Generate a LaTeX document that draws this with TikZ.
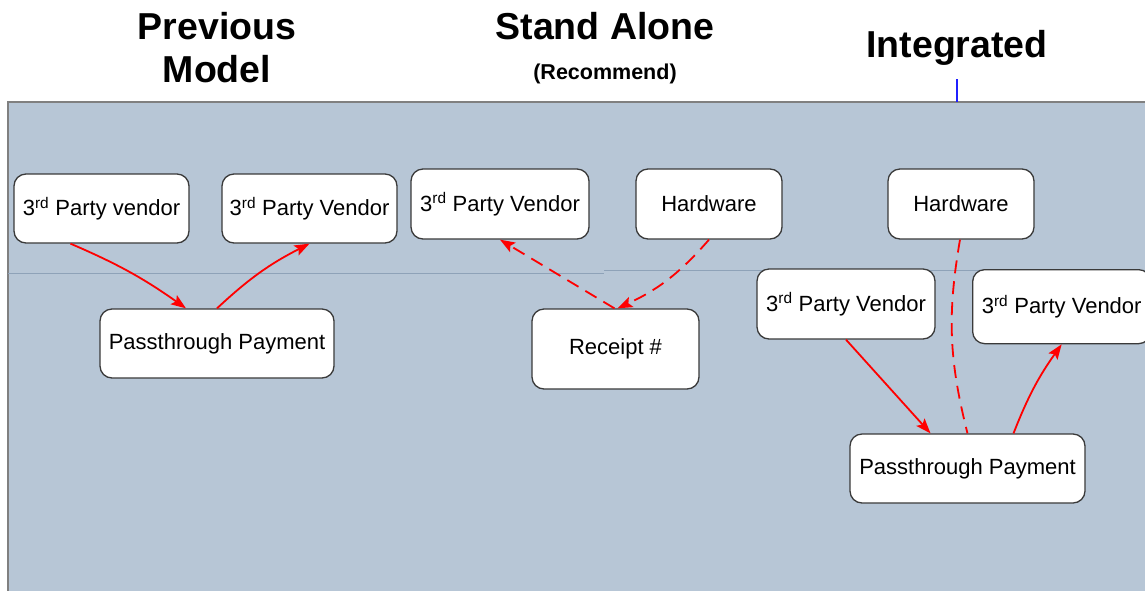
\documentclass[tikz,border=0pt]{standalone}
\usepackage{fontspec}
\setmainfont{Liberation Sans}
\usetikzlibrary{arrows.meta}
\definecolor{bgfill}{HTML}{B7C6D6}
\definecolor{sepline}{HTML}{8EA2B8}
\definecolor{boxline}{HTML}{3A3A3A}
\definecolor{bluemark}{HTML}{2020FF}
\tikzset{
  box/.style={draw=boxline, line width=1.3pt, fill=white, rounded corners=12pt, inner sep=0pt, font=\fontsize{22}{25}\selectfont},
  title/.style={font=\bfseries\fontsize{37.5}{42}\selectfont, align=center, inner sep=0pt},
  flow/.style={draw=red, line width=1.8pt, -{Stealth[length=15pt,width=11pt,inset=3pt]}},
  dflow/.style={flow, dash pattern=on 13pt off 8pt},
  dline/.style={draw=red, line width=1.8pt, dash pattern=on 13pt off 8pt}
}
\newcommand{\rdsup}{\textsuperscript{rd}}
\begin{document}
\begin{tikzpicture}[x=1pt,y=-1pt]
\useasboundingbox (0,0) rectangle (1145,590);
\fill[white] (0,0) rectangle (1145,590);
% background panel
\fill[bgfill] (8,102) rectangle (1150,595);
\draw[gray, line width=1.5pt] (8,595) -- (8,102) -- (1150,102);
\draw[sepline, line width=1pt] (8,273.5) -- (604,273.5);
\draw[sepline, line width=1pt] (604,270.5) -- (1150,270.5);
% titles
\node[title] (tprev) at (217,48) {Previous\\[1pt]Model};
\node[title] (tstand) at (605,26) {Stand Alone};
\node[font=\bfseries\fontsize{21.5}{24}\selectfont, inner sep=0pt] (trec) at (605,74) {(Recommend)};
\node[title] (tint) at (957,48) {Integrated};
\coordinate (btop) at (957,79);
\coordinate (bbot) at (957,102);
\draw[bluemark, line width=1.3pt] (btop) -- (bbot);
% previous model
\node[box, minimum width=175pt, minimum height=69pt] (pv1) at (101.5,208.5) {3\rdsup{} Party vendor};
\node[box, minimum width=175pt, minimum height=69pt] (pv2) at (309.5,208.5) {3\rdsup{} Party Vendor};
\node[box, minimum width=234pt, minimum height=69pt] (pp) at (217,343.5) {Passthrough Payment};
\draw[flow] ([xshift=-31pt]pv1.south) to[bend left=6] ([xshift=-31pt]pp.north);
\draw[flow] (pp.north) to[bend left=8] (pv2.south);
% stand alone
\node[box, minimum width=178pt, minimum height=70pt] (sv) at (500,204) {3\rdsup{} Party Vendor};
\node[box, minimum width=146pt, minimum height=70pt] (sh) at (709,204) {Hardware};
\node[box, minimum width=167pt, minimum height=80pt] (sr) at (615.5,349) {Receipt \#};
\draw[dflow] ([xshift=-1pt]sr.north) -- (sv.south);
\draw[dflow] (sh.south) to[bend left=12] ([xshift=2pt]sr.north);
% integrated
\node[box, minimum width=146pt, minimum height=70pt] (ih) at (961,204) {Hardware};
\node[box, minimum width=178pt, minimum height=70pt] (iv1) at (846,304) {3\rdsup{} Party Vendor};
\node[box, minimum width=178pt, minimum height=74pt, anchor=north west] (iv2) at (972,269) {3\rdsup{} Party Vendor};
\node[box, minimum width=235pt, minimum height=69pt] (ip) at (967.5,468.5) {Passthrough Payment};
\draw[flow] (iv1.south) -- ([xshift=-37pt]ip.north);
\draw[flow] ([xshift=46pt]ip.north) to[bend left=7] (iv2.south);
\draw[dline] ([xshift=-1pt]ih.south) to[bend right=12] (ip.north);
\end{tikzpicture}
\end{document}
